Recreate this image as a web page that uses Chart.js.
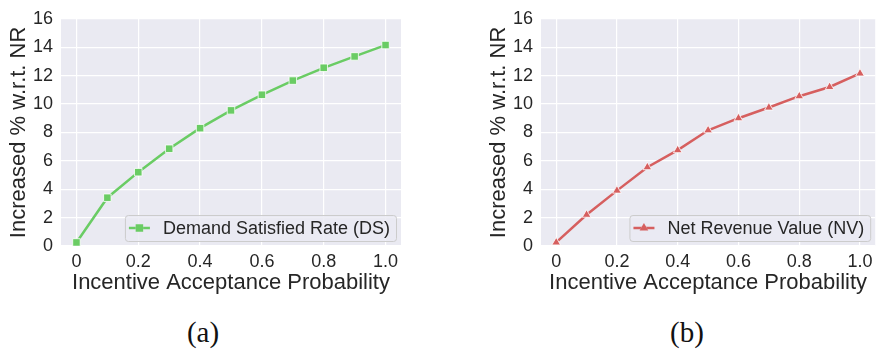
<!DOCTYPE html>
<html>
<head>
<meta charset="utf-8">
<script src="https://cdn.jsdelivr.net/npm/chart.js@4/dist/chart.umd.min.js"></script>
<style>
  html, body { margin: 0; padding: 0; background: #fff; }
  body { width: 881px; height: 356px; position: relative; overflow: hidden; }
  .panel { position: absolute; top: 0; height: 300px; }
  #panelA { left: 0; width: 420px; }
  #panelB { left: 480px; width: 401px; }
  .caption {
    position: absolute; top: 316px; width: 60px; text-align: center;
    font-family: "Liberation Serif", "DejaVu Serif", serif; font-size: 29px; color: #111;
  }
</style>
</head>
<body>
<div class="panel" id="panelA"><canvas id="chartA"></canvas></div>
<div class="panel" id="panelB"><canvas id="chartB"></canvas></div>
<div class="caption" style="left:173px">(a)</div>
<div class="caption" style="left:657px">(b)</div>

<script>
// acceptance probabilities on the x axis
const probs = [0, 0.1, 0.2, 0.3, 0.4, 0.5, 0.6, 0.7, 0.8, 0.9, 1.0];
// increase in % relative to NR
const dsValues = [0.25, 3.4, 5.2, 6.85, 8.3, 9.55, 10.65, 11.65, 12.55, 13.35, 14.15];
const nvValues = [0.25, 2.2, 3.9, 5.55, 6.75, 8.15, 9.0, 9.75, 10.55, 11.2, 12.15];
const xTickValues = [0, 0.2, 0.4, 0.6, 0.8, 1.0];
const xTickLabels = ["0", "0.2", "0.4", "0.6", "0.8", "1.0"];

const textColor = "#262626";
const fontFamily = "'Liberation Sans', Arial, sans-serif";

// grey plot background (seaborn darkgrid look)
const plotBackground = {
  id: "plotBackground",
  beforeDraw(chart) {
    const { ctx, chartArea: a } = chart;
    ctx.save();
    ctx.fillStyle = "#eaeaf2";
    ctx.fillRect(a.left, a.top, a.right - a.left, a.bottom - a.top);
    ctx.restore();
  },
};

// legend box in the lower right corner of the plot
const innerLegend = {
  id: "innerLegend",
  afterDraw(chart) {
    const { ctx, chartArea: a } = chart;
    const ds = chart.data.datasets[0];
    const meta = chart.getDatasetMeta(0);
    ctx.save();
    ctx.font = "18px " + fontFamily;
    const tw = ctx.measureText(ds.label).width;
    const w = tw + 44, h = 26;
    const x = a.right - 5 - w, y = a.bottom - 5 - h;
    ctx.beginPath();
    ctx.roundRect(x + 0.5, y + 0.5, w, h, 3);
    ctx.fillStyle = "rgba(234,234,242,0.8)";
    ctx.fill();
    ctx.strokeStyle = "#cccccc";
    ctx.lineWidth = 1;
    ctx.stroke();
    const cy = y + h / 2;
    ctx.beginPath();
    ctx.moveTo(x + 4, cy);
    ctx.lineTo(x + 25, cy);
    ctx.strokeStyle = ds.borderColor;
    ctx.lineWidth = ds.borderWidth;
    ctx.stroke();
    Chart.helpers.drawPoint(ctx, {
      pointStyle: ds.pointStyle,
      radius: ds.pointRadius,
      borderWidth: 0,
      rotation: 0,
    }, x + 14.5, cy);
    ctx.fillStyle = ds.backgroundColor;
    ctx.fill();
    ctx.fillStyle = textColor;
    ctx.textBaseline = "middle";
    ctx.fillText(ds.label, x + 38, cy + 1);
    ctx.restore();
  },
};

function makeChart(id, label, values, color, pointStyle, radius, padRight) {
  return new Chart(document.getElementById(id), {
    type: "line",
    data: {
      datasets: [
        {
          label: label,
          data: probs.map((p, i) => ({ x: p, y: values[i] })),
          borderColor: color,
          backgroundColor: color,
          borderWidth: 2.5,
          pointStyle: pointStyle,
          pointRadius: radius,
          pointBorderColor: "#ffffff",
          pointBorderWidth: 0.8,
          tension: 0,
        },
      ],
    },
    options: {
      responsive: true,
      maintainAspectRatio: false,
      animation: false,
      layout: { padding: { top: 12, right: padRight, left: 0, bottom: 0 } },
      plugins: { legend: { display: false }, tooltip: { enabled: false } },
      scales: {
        x: {
          type: "linear",
          min: -0.05,
          max: 1.05,
          afterBuildTicks(scale) {
            scale.ticks = xTickValues.map((v) => ({ value: v }));
          },
          afterFit(scale) {
            scale.height = 54;
          },
          ticks: {
            padding: 5,
            color: textColor,
            font: { family: fontFamily, size: 18 },
            maxRotation: 0,
            callback: (v) => xTickLabels[xTickValues.findIndex((t) => Math.abs(t - v) < 1e-9)],
          },
          grid: { color: "#ffffff", lineWidth: 1.2, drawTicks: false },
          border: { display: false },
          title: {
            display: true,
            text: "Incentive Acceptance Probability",
            color: textColor,
            font: { family: fontFamily, size: 22 },
            padding: { top: 0, bottom: 4 },
          },
        },
        y: {
          min: 0,
          max: 16,
          afterFit(scale) {
            scale.width = 61;
          },
          ticks: {
            stepSize: 2,
            padding: 8,
            color: textColor,
            font: { family: fontFamily, size: 18 },
          },
          grid: { color: "#ffffff", lineWidth: 1.2, drawTicks: false },
          border: { display: false },
          title: {
            display: true,
            text: "Increased % w.r.t. NR",
            color: textColor,
            font: { family: fontFamily, size: 22 },
            padding: { top: 6, bottom: 0 },
          },
        },
      },
    },
    plugins: [plotBackground, innerLegend],
  });
}

makeChart("chartA", "Demand Satisfied Rate (DS)", dsValues, "#6acc64", "rect", 5.3, 19);
makeChart("chartB", "Net Revenue Value (NV)", nvValues, "#d65f5f", "triangle", 5, 3);
</script>
</body>
</html>
